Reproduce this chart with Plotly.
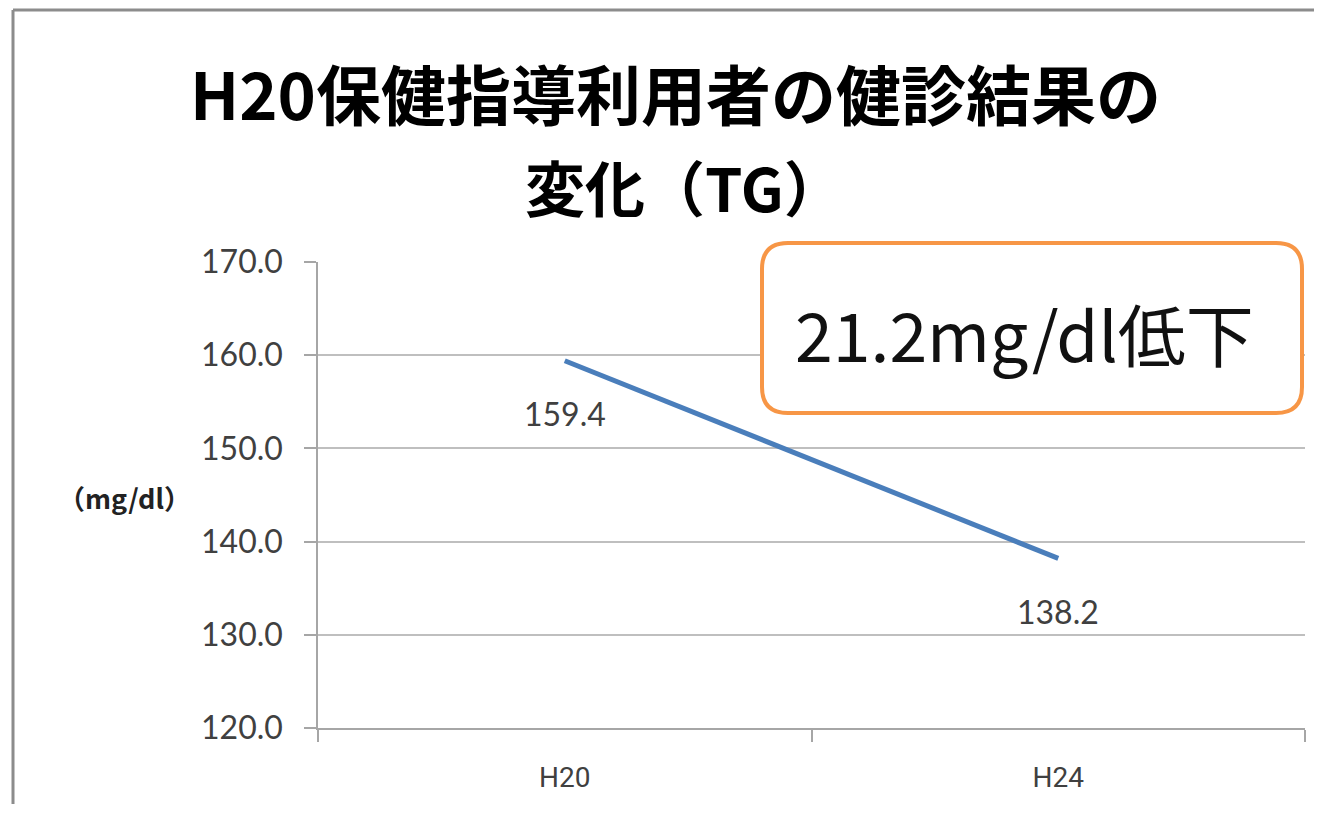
import plotly.graph_objects as go

categories = ["H20", "H24"]
tg_values = [159.4, 138.2]
value_labels = ["159.4", "138.2"]
y_ticks = [120, 130, 140, 150, 160, 170]
y_tick_labels = ["120.0", "130.0", "140.0", "150.0", "160.0", "170.0"]
title_line1 = "H20保健指導利用者の健診結果の"
title_line2 = "変化（TG）"
callout_text = "21.2mg/dl低下"
unit_text = "（mg/dl）"

OFF = 8  # page body margin
W, H = 1306, 796
L, T = 318 - OFF, 262 - OFF
R = W - (1305 - OFF)
B = H - (728 - OFF)
PW = W - L - R
PH = H - T - B

def px(x):
    return (x - OFF - L) / PW

def py(y):
    return (H - B - (y - OFF)) / PH

fig = go.Figure()
fig.add_trace(go.Scatter(
    x=categories, y=tg_values, mode="lines",
    line=dict(color="#4A7EBB", width=5),
    hoverinfo="skip", showlegend=False,
))

annotations = []
for c, v, t in zip(categories, tg_values, value_labels):
    annotations.append(dict(x=c, y=v, xref="x", yref="y", text=t, showarrow=False,
                            yshift=-53, font=dict(family="Lato, Noto Sans", size=32, color="#404040")))

annotations.append(dict(x=px(675), y=py(92), xref="paper", yref="paper", text=title_line1,
                        showarrow=False, xanchor="center", yanchor="middle",
                        font=dict(family="Noto Sans CJK JP", size=65, color="#000000", weight="bold")))
annotations.append(dict(x=px(684), y=py(185), xref="paper", yref="paper", text=title_line2,
                        showarrow=False, xanchor="center", yanchor="middle",
                        font=dict(family="Noto Sans CJK JP", size=60, color="#000000", weight="bold")))
annotations.append(dict(x=px(124), y=py(497), xref="paper", yref="paper", text=unit_text,
                        showarrow=False, xanchor="center", yanchor="middle",
                        font=dict(family="Noto Sans CJK JP", size=27, color="#222222", weight="bold")))
annotations.append(dict(x=px(1024), y=py(332), xref="paper", yref="paper", text=callout_text,
                        showarrow=False, xanchor="center", yanchor="middle",
                        font=dict(family="Noto Sans CJK JP", size=68, color="#111111")))

# rounded callout box
x0, x1, y0, y1, r = 762, 1302, 243, 413, 26
rx, ry = r / PW, r / PH
X0, X1, Y0, Y1 = px(x0), px(x1), py(y1), py(y0)
path = (f"M {X0+rx},{Y0} L {X1-rx},{Y0} Q {X1},{Y0} {X1},{Y0+ry} "
        f"L {X1},{Y1-ry} Q {X1},{Y1} {X1-rx},{Y1} "
        f"L {X0+rx},{Y1} Q {X0},{Y1} {X0},{Y1-ry} "
        f"L {X0},{Y0+ry} Q {X0},{Y0} {X0+rx},{Y0} Z")
shapes = [
    dict(type="path", path=path, xref="paper", yref="paper",
         line=dict(color="#F79646", width=4), fillcolor="white", layer="above"),
    # outer chart frame (left and top edges visible)
    dict(type="line", xref="paper", yref="paper", x0=px(13), x1=px(13), y0=py(830), y1=py(10),
         line=dict(color="#8C8C8C", width=3), layer="below"),
    dict(type="line", xref="paper", yref="paper", x0=px(13), x1=px(1340), y0=py(10), y1=py(10),
         line=dict(color="#8C8C8C", width=3), layer="below"),
]

fig.update_layout(
    width=W, height=H,
    margin=dict(l=L, r=R, t=T, b=B),
    paper_bgcolor="white", plot_bgcolor="white",
    annotations=annotations, shapes=shapes,
    showlegend=False,
    xaxis=dict(type="category", range=[-0.5, 1.5], tickson="boundaries",
               showline=True, linecolor="#A6A6A6", linewidth=2,
               ticks="outside", ticklen=12, tickcolor="#A6A6A6", tickwidth=1.5,
               showgrid=False, ticklabelstandoff=23,
               tickfont=dict(family="Liberation Sans Narrow, Roboto, sans-serif", size=28, color="#404040")),
    yaxis=dict(range=[120, 170], tickvals=y_ticks, ticktext=y_tick_labels,
               showline=True, linecolor="#A6A6A6", linewidth=1.5,
               ticks="outside", ticklen=12, tickcolor="#A6A6A6", tickwidth=1.5,
               showgrid=True, gridcolor="#BFBFBF", gridwidth=1.5, zeroline=False,
               ticklabelstandoff=15,
               tickfont=dict(family="Lato, Noto Sans", size=32, color="#404040")),
)

fig.write_html("out.html")
